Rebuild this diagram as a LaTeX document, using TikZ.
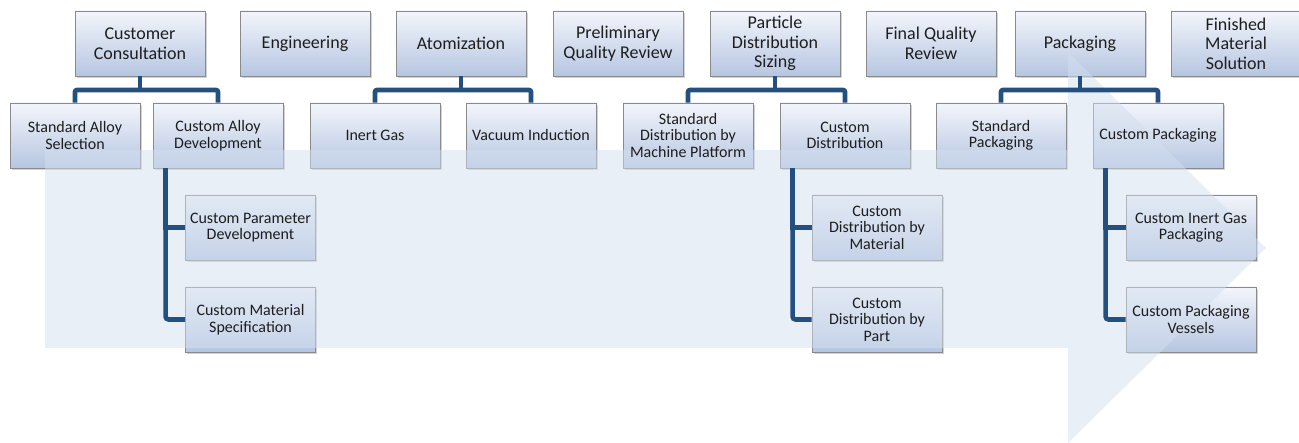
\documentclass[tikz,border=0pt]{standalone}
\usepackage{fontspec}
\setmainfont{Carlito}
\usetikzlibrary{shadows}
\definecolor{linec}{HTML}{24507F}
\definecolor{boxtop}{HTML}{F3F5FB}
\definecolor{boxbot}{HTML}{B6C6E1}
\definecolor{boxline}{HTML}{8A8A8A}
\definecolor{arrowc}{HTML}{D3DFEF}
\definecolor{txtc}{HTML}{1E1E1E}
\begin{document}
\begin{tikzpicture}[x=1pt,y=-1pt,
  box/.style={draw=boxline, line width=0.9pt, top color=boxtop, bottom color=boxbot,
    minimum width=130pt, minimum height=65pt, inner sep=0pt,
    drop shadow={shadow xshift=1.5pt, shadow yshift=-2.2pt, opacity=0.35}},
  lab/.style={align=center, inner sep=0pt, text=txtc},
  big/.style={lab, font=\fontsize{18}{19.5}\selectfont},
  mid/.style={lab, font=\fontsize{16}{16.5}\selectfont},
  conn/.style={draw=linec, line width=4.6pt, rounded corners=2pt}]
\useasboundingbox (0,0) rectangle (1299,443);
% boxes
\foreach \n/\x/\y in {cc/140/43.5, en/305/43.5, at/461/43.5, pq/618/43.5, pd/775/43.5,
  fq/931/43.5, pk/1080/43.5, fm/1236/43.5,
  sa/75/135.5, ca/218/135.5, ig/375/135.5, vi/531/135.5, sd/688/135.5, cd/845/135.5,
  sp/1001/135.5, cp/1158/135.5,
  cpd/250.5/227.5, cms/250.5/319.5, cdm/877/227.5, cdp/877/319.5,
  cig/1191/227.5, cpv/1191/319.5}
  \node[box] (\n) at (\x,\y) {};
% big translucent arrow
\fill[arrowc, fill opacity=0.5] (45,150) -- (1068,150) -- (1068,52) -- (1266,248)
  -- (1068,443) -- (1068,348) -- (45,348) -- cycle;
% labels
\node[big] (cc-t) at (cc) {Customer\\Consultation};
\node[big] (en-t) at (en) {Engineering};
\node[big] (at-t) at (at) {Atomization};
\node[big] (pq-t) at (pq) {Preliminary\\Quality Review};
\node[big] (pd-t) at (pd) {Particle\\Distribution\\Sizing};
\node[big] (fq-t) at (fq) {Final Quality\\Review};
\node[big] (pk-t) at (pk) {Packaging};
\node[big] (fm-t) at (fm) {Finished\\Material\\Solution};
\node[mid] (sa-t) at (sa) {Standard Alloy\\Selection};
\node[mid] (ca-t) at (ca) {Custom Alloy\\Development};
\node[mid] (ig-t) at (ig) {Inert Gas};
\node[mid] (vi-t) at (vi) {Vacuum Induction};
\node[mid] (sd-t) at (sd) {Standard\\Distribution by\\Machine Platform};
\node[mid] (cd-t) at (cd) {Custom\\Distribution};
\node[mid] (sp-t) at (sp) {Standard\\Packaging};
\node[mid] (cp-t) at (cp) {Custom Packaging};
\node[mid] (cpd-t) at (cpd) {Custom Parameter\\Development};
\node[mid] (cms-t) at (cms) {Custom Material\\Specification};
\node[mid] (cdm-t) at (cdm) {Custom\\Distribution by\\Material};
\node[mid] (cdp-t) at (cdp) {Custom\\Distribution by\\Part};
\node[mid] (cig-t) at (cig) {Custom Inert Gas\\Packaging};
\node[mid] (cpv-t) at (cpv) {Custom Packaging\\Vessels};
% connectors
\coordinate (j) at (0,90);
\foreach \p/\a/\b in {cc/sa/ca, at/ig/vi, pd/sd/cd, pk/sp/cp}{
  \draw[conn, rounded corners=0pt] (\p.south) -- (\p.south |- j);
  \draw[conn] (\a.north) -- (\a.north |- j) -- (\b.north |- j) -- (\b.north);
}
\foreach \p/\a/\b in {ca/cpd/cms, cd/cdm/cdp, cp/cig/cpv}{
  \draw[conn, rounded corners=0pt] ([xshift=13pt]\p.south west) |- (\a.west);
  \draw[conn, rounded corners=3pt] ([xshift=13pt]\p.south west) |- (\b.west);
}
\end{tikzpicture}
\end{document}
